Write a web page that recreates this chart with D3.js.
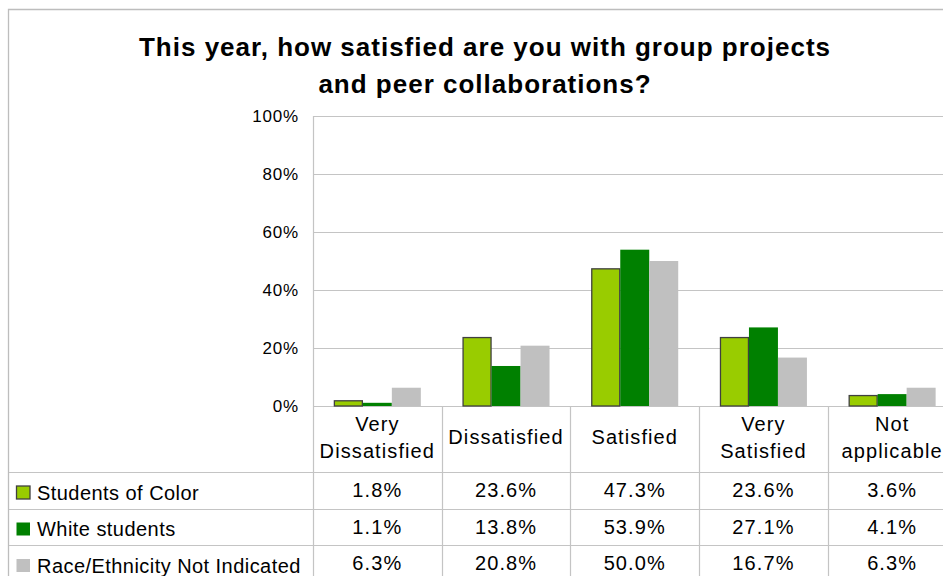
<!DOCTYPE html>
<html><head><meta charset="utf-8">
<script src="https://cdn.jsdelivr.net/npm/d3@7"></script>
<style>body{margin:0;background:#fff} svg{display:block;font-family:"Liberation Sans",Arial,sans-serif}</style>
</head><body><svg id="c" width="943" height="576"></svg>
<script>
const titleLines = ["This year, how satisfied are you with group projects", "and peer collaborations?"];
const categories = ["Very Dissatisfied", "Dissatisfied", "Satisfied", "Very Satisfied", "Not applicable"];
const categoryLabelLines = [["Very", "Dissatisfied"], ["Dissatisfied"], ["Satisfied"], ["Very", "Satisfied"], ["Not", "applicable"]];
const seriesNames = ["Students of Color", "White students", "Race/Ethnicity Not Indicated"];
const studentsOfColor = [1.8, 23.6, 47.3, 23.6, 3.6];
const whiteStudents = [1.1, 13.8, 53.9, 27.1, 4.1];
const notIndicated = [6.3, 20.8, 50.0, 16.7, 6.3];
const yTicks = [0, 20, 40, 60, 80, 100];
const seriesColors = ["#99cc00", "#008000", "#c0c0c0"];
const seriesStrokes = ["#404040", "none", "none"];

const seriesValues = [studentsOfColor, whiteStudents, notIndicated];
const W = 943, H = 576;
const plotLeft = 313, plotTop = 116, plotBottom = 406, step = 128.7;
const plotRight = plotLeft + step * categories.length;
const headerBottom = 472, rowH = 36.5;
const lineColor = "#c4c4c4";

const svg = d3.select("#c");

const x0 = d3.scaleBand().domain(categories).range([plotLeft, plotRight]).padding(0);
const x1 = d3.scaleBand().domain(seriesNames).range([0, x0.bandwidth()]).paddingInner(0).paddingOuter(0.72);
const y = d3.scaleLinear().domain([0, 100]).range([plotBottom, plotTop]);

// outer border
svg.append("path").attr("d", `M8.5,${H} V9.5 H${W}`).attr("fill", "none").attr("stroke", "#bdbdbd").attr("stroke-width", 1.3);

// title
svg.append("g").selectAll("text").data(titleLines).join("text")
  .attr("x", 485).attr("y", (d, i) => 56 + i * 37)
  .attr("text-anchor", "middle").attr("font-size", 26).attr("font-weight", "bold")
  .attr("letter-spacing", 1).attr("fill", "#000").text(d => d);

// gridlines
svg.append("g").selectAll("line").data(yTicks).join("line")
  .attr("x1", plotLeft).attr("x2", W)
  .attr("y1", d => Math.round(y(d)) + 0.5).attr("y2", d => Math.round(y(d)) + 0.5)
  .attr("stroke", lineColor).attr("stroke-width", 1.2);

// y axis line
svg.append("line").attr("x1", plotLeft + 0.5).attr("x2", plotLeft + 0.5)
  .attr("y1", plotTop).attr("y2", H).attr("stroke", lineColor).attr("stroke-width", 1.2);

// y tick labels
svg.append("g").selectAll("text").data(yTicks).join("text")
  .attr("x", 299).attr("y", d => y(d)).attr("dy", "0.36em")
  .attr("text-anchor", "end").attr("font-size", 17).attr("letter-spacing", 0.8)
  .attr("fill", "#000").text(d => d + "%");

// bars
const groups = svg.append("g").selectAll("g").data(seriesNames).join("g");
groups.each(function (s, si) {
  d3.select(this).selectAll("rect").data(categories).join("rect")
    .attr("x", c => x0(c) + x1(s) + (si === 0 ? 0.5 : 0))
    .attr("width", x1.bandwidth() - (si === 0 ? 1 : 0))
    .attr("y", (c, ci) => y(seriesValues[si][ci]))
    .attr("height", (c, ci) => plotBottom - y(seriesValues[si][ci]))
    .attr("fill", seriesColors[si])
    .attr("stroke", seriesStrokes[si]).attr("stroke-width", 1.3);
});

// table column separators
svg.append("g").selectAll("line").data(categories.slice(1)).join("line")
  .attr("x1", c => Math.round(x0(c)) + 0.5).attr("x2", c => Math.round(x0(c)) + 0.5)
  .attr("y1", plotBottom).attr("y2", H).attr("stroke", lineColor).attr("stroke-width", 1.2);

// table row lines
svg.append("g").selectAll("line").data(seriesNames).join("line")
  .attr("x1", 9).attr("x2", W)
  .attr("y1", (d, i) => Math.round(headerBottom + i * rowH) + 0.5)
  .attr("y2", (d, i) => Math.round(headerBottom + i * rowH) + 0.5)
  .attr("stroke", lineColor).attr("stroke-width", 1.2);

// category labels
const cat = svg.append("g").selectAll("text").data(categories).join("text")
  .attr("text-anchor", "middle").attr("font-size", 20).attr("letter-spacing", 1.1).attr("fill", "#000");
cat.each(function (c, ci) {
  const lines = categoryLabelLines[ci];
  const cx = x0(c) + x0.bandwidth() / 2;
  const ys = lines.length === 1 ? [444] : [430.5, 458];
  d3.select(this).selectAll("tspan").data(lines).join("tspan")
    .attr("x", cx).attr("y", (d, i) => ys[i]).text(d => d);
});

// values
seriesNames.forEach((s, si) => {
  svg.append("g").selectAll("text").data(categories).join("text")
    .attr("x", c => x0(c) + x0.bandwidth() / 2)
    .attr("y", 497 + si * rowH)
    .attr("text-anchor", "middle").attr("font-size", 20).attr("letter-spacing", 1.1)
    .attr("fill", "#000")
    .text((c, ci) => seriesValues[si][ci].toFixed(1) + "%");
});

// legend in table
const leg = svg.append("g").selectAll("g").data(seriesNames).join("g");
leg.append("rect")
  .attr("x", 16.5).attr("y", (d, i) => 499 + i * rowH - 13)
  .attr("width", 13.5).attr("height", 13)
  .attr("fill", (d, i) => seriesColors[i])
  .attr("stroke", (d, i) => seriesStrokes[i]).attr("stroke-width", 1.3);
leg.append("text")
  .attr("x", 37).attr("y", (d, i) => 499.5 + i * rowH)
  .attr("font-size", 20).attr("letter-spacing", 0.45)
  .attr("fill", "#000").text(d => d);
</script>
</body></html>
